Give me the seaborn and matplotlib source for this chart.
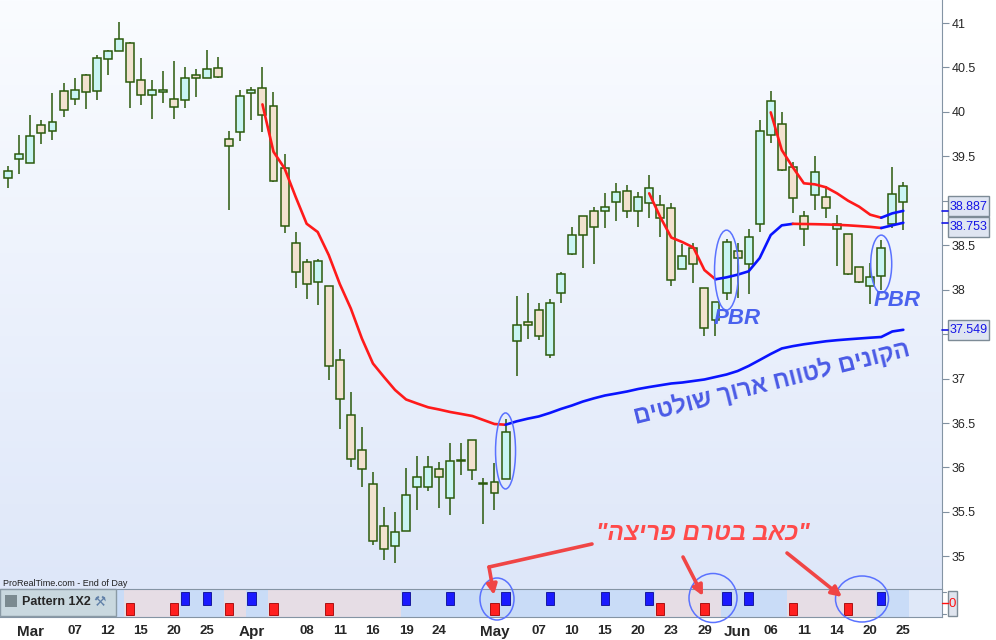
import numpy as np
import pandas as pd
import matplotlib
matplotlib.use("Agg")
import matplotlib.pyplot as plt
import seaborn as sns
from matplotlib.patches import Ellipse, Rectangle

sns.set_style("white")
plt.rcParams['font.family'] = ['Liberation Sans', 'DejaVu Sans']

# ---------------- data ----------------
dates = pd.bdate_range('2024-02-28', '2024-06-25', freq='C',
                       holidays=['2024-03-29', '2024-05-27', '2024-06-19'])

opens = [39.26, 39.47, 39.42, 39.85, 39.79, 40.24, 40.15, 40.42, 40.23, 40.60,
         40.69, 40.78, 40.36, 40.19, 40.22, 40.14, 40.13, 40.42, 40.38, 40.49,
         39.69, 39.77, 40.21, 40.27, 40.07, 39.37, 38.53, 38.31, 38.09, 38.04,
         37.21, 36.59, 36.20, 35.81, 35.34, 35.12, 35.28, 35.78, 35.78, 35.98,
         35.66, 36.07, 36.31, 35.81, 35.84, 35.87, 37.42, 37.64, 37.77, 37.27,
         37.96, 38.40, 38.83, 38.89, 38.89, 38.99, 39.11, 38.89, 38.98, 38.95,
         38.92, 38.23, 38.47, 38.02, 37.66, 37.96, 38.43, 38.29, 38.74, 39.74,
         39.86, 39.38, 38.83, 39.07, 39.04, 38.68, 38.63, 38.25, 38.04, 38.15,
         38.74, 38.99]
highs = [39.39, 39.74, 39.97, 39.91, 40.21, 40.33, 40.38, 40.43, 40.64, 40.70,
         41.01, 40.79, 40.61, 40.36, 40.46, 40.57, 40.51, 40.48, 40.70, 40.62,
         39.79, 40.25, 40.28, 40.51, 40.22, 39.53, 38.65, 38.35, 38.35, 38.04,
         37.33, 36.85, 36.46, 35.95, 35.56, 35.50, 35.99, 36.13, 36.13, 36.06,
         36.28, 36.27, 36.31, 35.88, 36.05, 36.54, 37.93, 37.96, 37.85, 37.89,
         38.20, 38.70, 38.83, 38.93, 39.09, 39.20, 39.18, 39.10, 39.29, 39.07,
         38.98, 38.51, 38.53, 38.02, 37.86, 38.57, 38.53, 38.68, 39.91, 40.23,
         40.00, 39.44, 38.89, 39.50, 39.17, 38.84, 38.63, 38.25, 38.30, 38.56,
         39.38, 39.21]
lows = [39.14, 39.30, 39.42, 39.64, 39.68, 39.94, 40.08, 40.03, 40.13, 40.41,
        40.69, 40.04, 40.08, 39.92, 40.10, 39.92, 40.04, 40.17, 40.38, 40.38,
        38.90, 39.67, 39.91, 39.77, 39.21, 38.64, 38.02, 37.90, 37.83, 36.98,
        36.43, 36.00, 35.78, 35.13, 34.96, 34.93, 35.28, 35.52, 35.73, 35.54,
        35.46, 35.92, 35.86, 35.36, 35.52, 35.87, 37.03, 37.44, 37.43, 37.23,
        37.85, 38.39, 38.24, 38.29, 38.69, 38.77, 38.81, 38.71, 38.81, 38.59,
        38.04, 38.23, 38.08, 37.48, 37.48, 37.88, 37.91, 37.95, 38.65, 39.65,
        39.34, 38.86, 38.49, 38.90, 38.81, 38.27, 38.17, 38.07, 37.84, 38.00,
        38.69, 38.67]
closes = [39.33, 39.53, 39.73, 39.76, 39.89, 40.02, 40.25, 40.22, 40.61, 40.68,
          40.82, 40.34, 40.19, 40.25, 40.25, 40.05, 40.38, 40.38, 40.48, 40.39,
          39.62, 40.18, 40.25, 39.97, 39.22, 38.72, 38.20, 38.06, 38.32, 37.14,
          36.77, 36.09, 35.98, 35.17, 35.08, 35.27, 35.69, 35.89, 36.01, 35.89,
          36.07, 36.08, 35.97, 35.83, 35.71, 36.40, 37.60, 37.60, 37.48, 37.85,
          38.18, 38.61, 38.61, 38.70, 38.93, 39.10, 38.89, 39.04, 39.14, 38.81,
          38.11, 38.38, 38.29, 37.57, 37.86, 38.54, 38.36, 38.59, 39.78, 40.12,
          39.35, 39.03, 38.68, 39.32, 38.92, 38.74, 38.18, 38.09, 38.14, 38.47,
          39.08, 39.17]

# moving-average style lines (start index, values)
slow_start = 23
slow_line = [40.085, 39.552, 39.366, 39.046, 38.742, 38.649, 38.390, 38.064, 37.788, 37.451,
             37.170, 37.018, 36.872, 36.765, 36.720, 36.677, 36.652, 36.624, 36.602, 36.579,
             36.534, 36.489, 36.481, 36.519, 36.549, 36.574, 36.613, 36.658, 36.697, 36.742,
             36.778, 36.810, 36.832, 36.855, 36.883, 36.905, 36.925, 36.945, 36.956, 36.973,
             36.990, 37.018, 37.046, 37.085, 37.142, 37.209, 37.277, 37.339, 37.365, 37.386,
             37.403, 37.420, 37.432, 37.442, 37.451, 37.460, 37.468, 37.530, 37.549]
mid_start = 58
mid_line = [39.084, 38.818, 38.587, 38.536, 38.475, 38.221, 38.117, 38.139, 38.169, 38.207,
            38.356, 38.615, 38.724, 38.741, 38.739, 38.737, 38.734, 38.730, 38.724, 38.716,
            38.707, 38.694, 38.724, 38.753]
fast_start = 69
fast_line = [39.995, 39.571, 39.377, 39.197, 39.185, 39.152, 39.084, 39.001, 38.934, 38.844,
             38.810, 38.859, 38.887]

# Pattern 1X2 indicator signals (candle indices)
bull_signals = [16, 18, 22, 36, 40, 45, 49, 54, 58, 65, 67, 79]
bear_signals = [11, 15, 20, 24, 29, 44, 59, 63, 71, 76]
regime_changes = [11, 16, 20, 22, 24, 36, 59, 65, 71, 79]   # alternating bear / bull, starting bull

tick_dates = ['2024-03-01', '2024-03-07', '2024-03-12', '2024-03-15', '2024-03-20', '2024-03-25',
              '2024-04-01', '2024-04-08', '2024-04-11', '2024-04-16', '2024-04-19', '2024-04-24',
              '2024-05-01', '2024-05-07', '2024-05-10', '2024-05-15', '2024-05-20', '2024-05-23',
              '2024-05-29', '2024-06-03', '2024-06-06', '2024-06-11', '2024-06-14', '2024-06-20',
              '2024-06-25']
tick_labels = ['Mar', '07', '12', '15', '20', '25', 'Apr', '08', '11', '16', '19', '24',
               'May', '07', '10', '15', '20', '23', '29', 'Jun', '06', '11', '14', '20', '25']
price_ticks = [35, 35.5, 36, 36.5, 37, 37.5, 38, 38.5, 39, 39.5, 40, 40.5, 41]

annot_buyers = "הקונים לטווח ארוך שולטים"
annot_pain = "\"כאב בטרם פריצה\""

# ---------------- figure ----------------
W, H = 996, 640
fig = plt.figure(figsize=(W / 100, H / 100), dpi=100)
ax = fig.add_axes([0, (H - 589) / H, 942 / W, 589 / H])
axp = fig.add_axes([0, (H - 617) / H, 942 / W, 28 / H])

n = len(dates)
x = np.arange(n)
xlim = (-0.751, 84.5)
ylim = (34.633, 41.259)

# gradient background
grad = np.linspace(0, 1, 256)[:, None]
top_c = np.array([250, 252, 255]) / 255
bot_c = np.array([222, 231, 249]) / 255
img = top_c[None, None, :] * (1 - grad[..., None]) + bot_c[None, None, :] * grad[..., None]
img = np.repeat(img, 2, axis=1)
ax.imshow(img, extent=[xlim[0], xlim[1], ylim[0], ylim[1]], origin='upper',
          aspect='auto', zorder=0)

o = np.array(opens); h = np.array(highs); l = np.array(lows); c = np.array(closes)
up = c >= o
edge = '#2b5a0c'
ax.vlines(x, l, h, color=edge, lw=1.1, zorder=2)
bottom = np.minimum(o, c)
height = np.maximum(np.abs(c - o), 0.012)
ax.bar(x, height, bottom=bottom, width=0.72,
       color=np.where(up, '#c9f5f3', '#f2e2cf'), edgecolor=edge, linewidth=1.1, zorder=3)


def draw_line(start, vals):
    vals = np.asarray(vals)
    xs = start + np.arange(len(vals))
    d = np.diff(vals)
    dirs = []
    prev = 1
    for v in d:
        cur = 1 if v > 0 else (-1 if v < 0 else prev)
        dirs.append(cur)
        prev = cur
    i = 0
    while i < len(dirs):
        j = i
        while j + 1 < len(dirs) and dirs[j + 1] == dirs[i]:
            j += 1
        col = '#0a14ff' if dirs[i] > 0 else '#ff1a1a'
        sns.lineplot(x=xs[i:j + 2], y=vals[i:j + 2], color=col, linewidth=1.9,
                     ax=ax, sort=False, estimator=None, legend=False, zorder=4)
        i = j + 1


draw_line(slow_start, slow_line)
draw_line(mid_start, mid_line)
draw_line(fast_start, fast_line)

# ellipses around PBR candles (data coordinates)
for cx, cy, ew, eh in [(45, 36.186, 1.81, 0.855), (65, 38.22, 2.17, 0.9), (79, 38.289, 1.9, 0.65)]:
    ax.add_patch(Ellipse((cx, cy), ew, eh, fill=False, ec='#5a72ff', lw=1.1, zorder=5))

ax.set_xlim(*xlim)
ax.set_ylim(*ylim)
ax.set_xticks([])
ax.yaxis.tick_right()
ax.set_yticks(price_ticks)
ax.set_yticklabels(['' if t in (39, 37.5) else ('%g' % t) for t in price_ticks])
ax.tick_params(axis='y', direction='out', length=5, width=0.8, color='#8090a0',
               labelsize=9, pad=2, right=True, left=False)
for s in ['left', 'top', 'bottom']:
    ax.spines[s].set_visible(False)
ax.spines['right'].set_color('#8494a4')

# ---------------- indicator panel ----------------
axp.set_xlim(*xlim)
axp.set_ylim(-1, 1)
axp.set_facecolor('#dfe8f8')
bounds = [xlim[0]] + [r - 0.5 for r in regime_changes] + [n - 0.5]
for k in range(len(bounds) - 1):
    col = '#c9dcf7' if k % 2 == 0 else '#e6dde5'
    axp.axvspan(bounds[k], bounds[k + 1], color=col, lw=0, zorder=0)
axp.bar(bull_signals, 0.93, bottom=-0.143, width=0.75, color='#1a1aff',
        edgecolor='#0a0a90', linewidth=0.6, zorder=3)
axp.bar(bear_signals, 0.857, bottom=-0.857, width=0.75, color='#ff2020',
        edgecolor='#a00000', linewidth=0.6, zorder=3)
pos = dates.get_indexer(pd.to_datetime(tick_dates))
axp.set_xticks(pos)
axp.set_xticklabels(tick_labels)
for t, lab in zip(axp.get_xticklabels(), tick_labels):
    t.set_fontweight('bold')
    t.set_fontsize(11 if lab.isalpha() else 9.5)
axp.tick_params(axis='x', direction='out', length=4, width=0.8, color='#8090a0', pad=2)
axp.set_yticks([])
axp.spines['left'].set_visible(False)
for s in ['top', 'bottom', 'right']:
    axp.spines[s].set_color('#8494a4')

# ---------------- overlay (pixel coordinates) ----------------
ov = fig.add_axes([0, 0, 1, 1], zorder=10)
ov.set_xlim(0, W)
ov.set_ylim(H, 0)
ov.axis('off')
ov.patch.set_alpha(0)


def ypix(val):
    return H - ax.transData.transform((0, val))[1]


# value boxes on the right axis
box_info = [(slow_line[-1], ypix(slow_line[-1])), (mid_line[-1], 227), (fast_line[-1], 206)]
for val, yc in box_info:
    ov.plot([942, 948], [ypix(val), ypix(val)], color='#1414e6', lw=1.2)
    ov.add_patch(Rectangle((948, yc - 10), 41, 20, fc='#dfe5f1', ec='#7d8b96', lw=1))
    ov.text(968.5, yc + 0.5, '%.3f' % val, color='#1414e6', fontsize=9,
            ha='center', va='center')

# indicator right box
ov.add_patch(Rectangle((948, 591), 9, 25, fc='#dfe4ee', ec='#7d8b96', lw=1))
ov.text(952.5, 604, '0', color='#ff1010', fontsize=9.5, ha='center', va='center')
ov.plot([942, 948], [603, 603], color='#ff1010', lw=1)
for yy in (592, 614):
    ov.plot([942, 946], [yy, yy], color='#8090a0', lw=0.8)

# indicator label box
ov.add_patch(Rectangle((0, 589), 116, 27, fc='#c9d8df', ec='#8a9aa5', lw=1))
ov.add_patch(Rectangle((5, 595), 12, 12, fc='#7b8a90', ec='none'))
ov.text(22, 602, 'Pattern 1X2', fontsize=9, fontweight='bold', va='center', ha='left')
ov.text(100, 602, '\u2692', fontsize=10, color='#6080a8', va='center', ha='center',
        family=['DejaVu Sans'])

ov.text(3, 583, 'ProRealTime.com - End of Day', fontsize=6.5, va='center', ha='left',
        color='#202020')

# PBR labels
pbr_kw = dict(fontsize=16, fontweight='bold', fontstyle='italic', color='#4a62ee',
              ha='center', va='center')
ov.text(737, 318, 'PBR', **pbr_kw)
ov.text(897, 301, 'PBR', **pbr_kw)

# Hebrew annotations (matplotlib draws left-to-right, so give the visual order)
ov.text(772, 382, annot_buyers[::-1], fontsize=17, fontweight='bold', color='#4a5ae6',
        rotation=14, rotation_mode='anchor', ha='center', va='center')
ov.text(703, 534, annot_pain[::-1], fontsize=17.5, fontweight='bold', fontstyle='italic',
        color='#ff4a4a', ha='center', va='center')

# red arrows
arr_col = '#f04545'
ov.plot([592, 489], [544, 567], color=arr_col, lw=2.6, solid_capstyle='round')
for (x0, y0), (x1, y1) in [((489, 567), (494, 595)), ((683, 557), (703, 596)),
                           ((787, 553), (842, 597))]:
    ov.annotate('', xy=(x1, y1), xytext=(x0, y0),
                arrowprops=dict(arrowstyle='-|>', color=arr_col, lw=2.6,
                                mutation_scale=15, shrinkA=0, shrinkB=0))

# circles around signals in the indicator panel
for cx, cy, ew, eh in [(497, 599, 34, 42), (713, 598, 48, 49), (862, 599, 53, 46)]:
    ov.add_patch(Ellipse((cx, cy), ew, eh, fill=False, ec='#5a72ff', lw=1.1))

fig.savefig('out.png', dpi=100)
